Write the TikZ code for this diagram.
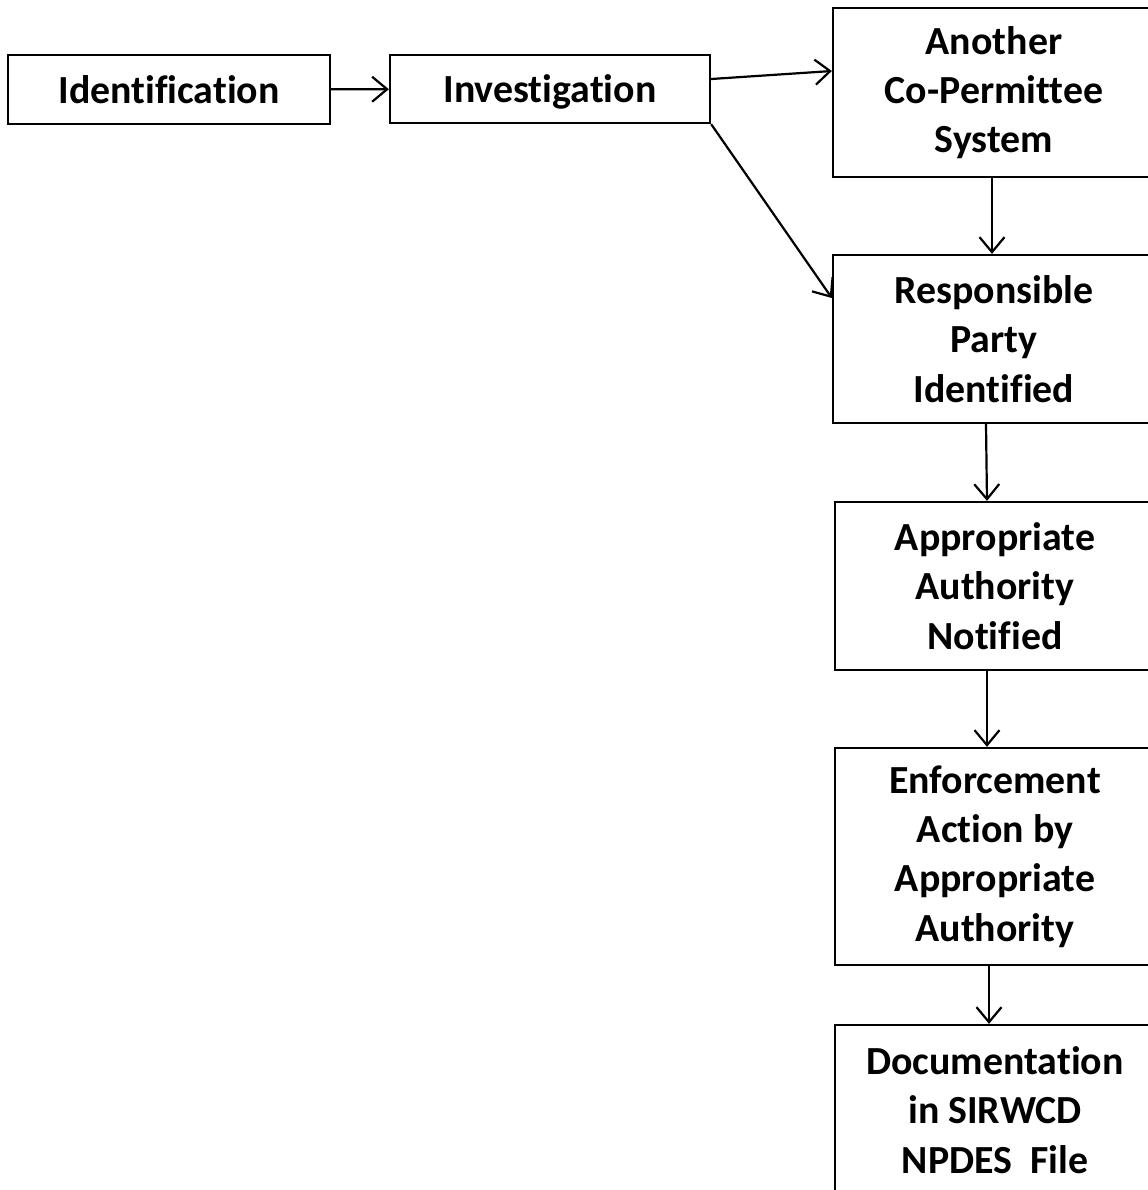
\documentclass[tikz,border=0pt]{standalone}
\usepackage{fontspec}
\setmainfont[Ligatures=NoCommon]{Carlito}
\usetikzlibrary{arrows.meta}

\begin{document}
\begin{tikzpicture}[x=1bp,y=-1bp,
  stagebox/.style={draw,line width=2.3bp,inner sep=0pt,align=center,
    font=\fontsize{40}{49.5}\selectfont\bfseries},
  flow/.style={line width=2.2bp,-{Straight Barb[length=15bp,width=25bp,line width=2.2bp]}}]
\useasboundingbox (0,0) rectangle (1148,1190);
% top row
\node[stagebox,minimum width=322bp,minimum height=69bp] (ident) at (169,89.5) {Identification};
\node[stagebox,minimum width=320bp,minimum height=68bp,text depth=0pt] (invest) at (550,89) {Investigation};
% right column
\node[stagebox,minimum width=322bp,minimum height=169bp] (cosys) at (994,92.5) {Another\\Co-Permittee\\System};
\node[stagebox,minimum width=322bp,minimum height=168bp] (party) at (994,339) {Responsible\\Party\\Identified};
\node[stagebox,minimum width=320bp,minimum height=168bp] (notif) at (995,586) {Appropriate\\Authority\\Notified};
\node[stagebox,minimum width=320bp,minimum height=217bp] (enforce) at (995,856.5) {Enforcement\\Action by\\Appropriate\\Authority};
\node[stagebox,minimum width=320bp,minimum height=170bp] (docfile) at (995,1110) {Documentation\\in SIRWCD\\NPDES\ \ File};
% connectors
\draw[flow] (ident) -- (invest);
\draw[flow] ([yshift=10bp]invest.east) -- ([yshift=21.5bp]cosys.west);
\draw[flow] (invest.south east) -- ([yshift=41bp]party.west);
\draw[flow] ([xshift=-2bp]cosys.south) -- ([xshift=-2bp]party.north);
\draw[flow] ([xshift=-8bp]party.south) -- ([xshift=-8bp]notif.north);
\draw[flow] ([xshift=-8bp]notif.south) -- ([xshift=-8bp]enforce.north);
\draw[flow] ([xshift=-6bp]enforce.south) -- ([xshift=-6bp]docfile.north);
\end{tikzpicture}
\end{document}
